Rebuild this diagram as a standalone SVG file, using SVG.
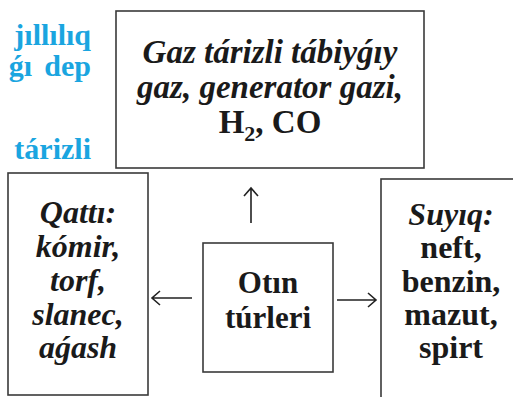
<svg xmlns="http://www.w3.org/2000/svg" width="513" height="397" viewBox="0 0 513 397">
<style>
.box{fill:#fff;stroke:#3a3a3a;stroke-width:1.6}
.t{font-weight:bold;fill:#1a1a1a;text-anchor:middle}
.it{font-style:italic}
.blue{font-weight:bold;fill:#1aa5e0;font-size:30px;text-anchor:end}
.conn{fill:none;stroke:#222;stroke-width:1.6}
</style>
<rect width="513" height="397" fill="#fff"/>
<g font-family="Liberation Serif, Times New Roman, serif">
<g id="bg-text">
<text class="blue" x="91" y="45">jıllılıq</text>
<text class="blue" x="32" y="76">ǵı</text>
<text class="blue" x="91" y="76">dep</text>
<text class="blue" x="91" y="159">tárizli</text>
</g>
<g id="node-gas">
<rect class="box" x="116" y="11" width="308" height="157"/>
<text class="t it" x="270" y="63" font-size="33">Gaz tárizli tábiyǵıy</text>
<text class="t it" x="270" y="98" font-size="33">gaz, generator gazi,</text>
<text class="t" x="270" y="133" font-size="33">H<tspan font-size="22" dy="8">2</tspan><tspan dy="-8">, CO</tspan></text>
</g>
<g id="node-solid">
<rect class="box" x="8" y="173" width="140" height="222"/>
<text class="t it" x="78" y="223" font-size="32">Qattı:</text>
<text class="t it" x="78" y="257" font-size="32">kómir,</text>
<text class="t it" x="78" y="291" font-size="32">torf,</text>
<text class="t it" x="78" y="325" font-size="32">slanec,</text>
<text class="t it" x="78" y="358" font-size="32">aǵash</text>
</g>
<g id="node-center">
<rect class="box" x="203" y="243" width="130" height="129"/>
<text class="t" x="268" y="293" font-size="31">Otın</text>
<text class="t" x="268" y="328" font-size="31">túrleri</text>
</g>
<g id="node-liquid">
<rect class="box" x="381" y="179" width="150" height="240"/>
<text class="t it" x="451" y="225" font-size="32">Suyıq:</text>
<text class="t" x="451" y="258" font-size="32">neft,</text>
<text class="t" x="451" y="292" font-size="32">benzin,</text>
<text class="t" x="451" y="325" font-size="32">mazut,</text>
<text class="t" x="451" y="358" font-size="32">spirt</text>
</g>
</g>
<g id="connectors">
<path class="conn" d="M251,223 V188 M244,196 L251,188 L258,196"/>
<path class="conn" d="M192,298 H152 M160,291 L152,298 L160,305"/>
<path class="conn" d="M337,300 H376 M368,293 L376,300 L368,307"/>
</g>
</svg>
